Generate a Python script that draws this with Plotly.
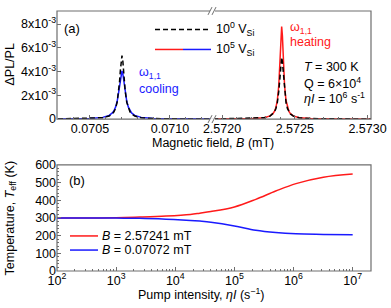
import plotly.graph_objects as go

# ---------------- data ----------------
# Panel (a): left peak (omega_1,1 cooling) around B = 0.0707 mT
b_left = [0.07030, 0.07050, 0.07058, 0.07062, 0.07064, 0.07065, 0.07066, 0.07067, 0.07068,
          0.070685, 0.07069, 0.070695, 0.07070, 0.070705, 0.07071, 0.070715, 0.07072,
          0.07073, 0.07074, 0.07075, 0.07076, 0.07078, 0.07082, 0.07090, 0.07110, 0.07127]
pl_left_low = [1.08e-5, 4.30e-5, 1.18e-4, 2.58e-4, 4.42e-4, 6.14e-4, 9.01e-4, 1.42e-3, 2.39e-3,
               3.16e-3, 4.09e-3, 4.97e-3, 5.35e-3, 4.97e-3, 4.09e-3, 3.16e-3, 2.39e-3,
               1.42e-3, 9.01e-4, 6.14e-4, 4.42e-4, 2.58e-4, 1.18e-4, 4.30e-5, 1.08e-5, 5.3e-6]
pl_left_high = [1.33e-5, 5.29e-5, 1.44e-4, 3.09e-4, 5.19e-4, 7.07e-4, 1.007e-3, 1.50e-3, 2.31e-3,
                2.84e-3, 3.41e-3, 3.87e-3, 4.05e-3, 3.87e-3, 3.41e-3, 2.84e-3, 2.31e-3,
                1.50e-3, 1.007e-3, 7.07e-4, 5.19e-4, 3.09e-4, 1.44e-4, 5.29e-5, 1.33e-5, 6.6e-6]

# Panel (a): right peak (omega_1,1 heating) around B = 2.57241 mT
b_right = [2.57194, 2.57221, 2.57229, 2.57233, 2.57235, 2.57236, 2.57237, 2.57238, 2.57239,
           2.572395, 2.57240, 2.572405, 2.57241, 2.572415, 2.57242, 2.572425, 2.57243,
           2.57244, 2.57245, 2.57246, 2.57247, 2.57249, 2.57253, 2.57261, 2.57281, 2.57303]
pl_right_low = [7.6e-6, 4.18e-5, 1.15e-4, 2.51e-4, 4.30e-4, 5.96e-4, 8.75e-4, 1.38e-3, 2.33e-3,
                3.07e-3, 3.97e-3, 4.83e-3, 5.20e-3, 4.83e-3, 3.97e-3, 3.07e-3, 2.33e-3,
                1.38e-3, 8.75e-4, 5.96e-4, 4.30e-4, 2.51e-4, 1.15e-4, 4.18e-5, 1.05e-5, 4.4e-6]
pl_right_high = [7.9e-6, 4.36e-5, 1.20e-4, 2.65e-4, 4.59e-4, 6.44e-4, 9.62e-4, 1.56e-3, 2.81e-3,
                 3.90e-3, 5.40e-3, 7.02e-3, 7.80e-3, 7.02e-3, 5.40e-3, 3.90e-3, 2.81e-3,
                 1.56e-3, 9.62e-4, 6.44e-4, 4.59e-4, 2.65e-4, 1.20e-4, 4.36e-5, 1.10e-5, 4.6e-6]

# Panel (b): effective temperature vs pump intensity
pump = [1e2, 1e3, 2.5e3, 7e3, 1.8e4, 2.6e4, 4e4, 1e5, 2.3e5, 5e5, 1.1e6, 3.2e6, 1e7]
t_heat = [300, 301, 305, 311, 320, 327, 336, 362, 405, 452, 494, 530, 548]
t_cool = [300, 299, 298, 293, 286, 282, 276, 255, 230, 217, 210, 207, 205]

ya_ticks = [0, 2e-3, 4e-3, 6e-3, 8e-3]
ya_text = ["0", "2x10<sup>-3</sup>", "4x10<sup>-3</sup>", "6x10<sup>-3</sup>", "8x10<sup>-3</sup>"]
xl_ticks = [0.0705, 0.0710]
xl_text = ["0.0705", "0.0710"]
xr_ticks = [2.5720, 2.5725, 2.5730]
xr_text = ["2.5720", "2.5725", "2.5730"]
xb_ticks = [1e2, 1e3, 1e4, 1e5, 1e6, 1e7]
xb_text = ["10<sup>2</sup>", "10<sup>3</sup>", "10<sup>4</sup>", "10<sup>5</sup>",
           "10<sup>6</sup>", "10<sup>7</sup>"]
yb_ticks = [0, 100, 200, 300, 400, 500, 600]

# ---------------- layout geometry (pixels) ----------------
W, H = 391, 308
L, R, T, B = 57, 20, 4, 37
PW, PH = W - L - R, H - T - B
BREAK_X = 213


def px(x):
    return (x - L) / PW


def py(y):
    return (H - B - y) / PH


FONT = "Liberation Sans, Arial, sans-serif"
AX = "#6e6e6e"
RED = "#ff1a1a"
BLUE = "#1a1aff"

fig = go.Figure()

# panel (a) traces
fig.add_trace(go.Scatter(x=b_left, y=pl_left_high, mode="lines", line=dict(color=BLUE, width=1.5),
                         xaxis="x", yaxis="y", showlegend=False))
fig.add_trace(go.Scatter(x=b_left, y=pl_left_low, mode="lines",
                         line=dict(color="black", width=1.5, dash="5px,3px"),
                         xaxis="x", yaxis="y", showlegend=False))
fig.add_trace(go.Scatter(x=b_right, y=pl_right_high, mode="lines", line=dict(color=RED, width=1.5),
                         xaxis="x2", yaxis="y", showlegend=False))
fig.add_trace(go.Scatter(x=b_right, y=pl_right_low, mode="lines",
                         line=dict(color="black", width=1.5, dash="5px,3px"),
                         xaxis="x2", yaxis="y", showlegend=False))

# panel (b) traces
fig.add_trace(go.Scatter(x=pump, y=t_heat, mode="lines", line=dict(color=RED, width=1.5, shape="spline"),
                         xaxis="x3", yaxis="y3", showlegend=False))
fig.add_trace(go.Scatter(x=pump, y=t_cool, mode="lines", line=dict(color=BLUE, width=1.5, shape="spline"),
                         xaxis="x3", yaxis="y3", showlegend=False))

tickfont = dict(family=FONT, size=12.5, color="black")
top_dom = [py(115), 1.0]
bot_dom = [0.0, py(162)]
split = px(BREAK_X)

common_x = dict(showline=False, showgrid=False, zeroline=False, ticks="inside", ticklen=4,
                tickcolor=AX, tickfont=tickfont)

fig.update_layout(
    width=W, height=H,
    margin=dict(l=L, r=R, t=T, b=B),
    paper_bgcolor="white", plot_bgcolor="white",
    font=dict(family=FONT, size=12.5, color="black"),
    xaxis=dict(domain=[0, split], range=[0.070294, 0.071269], anchor="y",
               tickvals=xl_ticks, ticktext=xl_text,
               minor=dict(ticks="inside", ticklen=2, tickcolor=AX, dtick=0.0001, tick0=0.0705),
               **common_x),
    xaxis2=dict(domain=[split, 1], range=[2.571938, 2.573024], anchor="y",
                tickvals=xr_ticks, ticktext=xr_text,
                minor=dict(ticks="inside", ticklen=2, tickcolor=AX, dtick=0.0001, tick0=2.5720),
                **common_x),
    yaxis=dict(domain=top_dom, range=[0, 9.1e-3], anchor="x",
               tickvals=ya_ticks, ticktext=ya_text,
               showline=False, showgrid=False, zeroline=False, ticks="inside", ticklen=4,
               tickcolor=AX, tickfont=tickfont),
    xaxis3=dict(domain=[0, 1], type="log", range=[2, 7.31], anchor="y3",
                tickvals=xb_ticks, ticktext=xb_text,
                minor=dict(ticks="inside", ticklen=2, tickcolor=AX, dtick="D1"),
                **common_x),
    yaxis3=dict(domain=bot_dom, range=[0, 600], anchor="x3",
                tickvals=yb_ticks,
                minor=dict(ticks="inside", ticklen=2, tickcolor=AX, dtick=20),
                showline=False, showgrid=False, zeroline=False, ticks="inside", ticklen=4,
                tickcolor=AX, tickfont=tickfont),
)

shapes = []
# frames
shapes.append(dict(type="rect", xref="paper", yref="paper", x0=0, x1=1, y0=top_dom[0], y1=top_dom[1],
                   line=dict(color=AX, width=1.2), fillcolor="rgba(0,0,0,0)", layer="above"))
shapes.append(dict(type="rect", xref="paper", yref="paper", x0=0, x1=1, y0=bot_dom[0], y1=bot_dom[1],
                   line=dict(color=AX, width=1.2), fillcolor="rgba(0,0,0,0)", layer="above"))
# axis break marks (//) on top panel, top and bottom edges
for yy in (4, 115):
    shapes.append(dict(type="rect", xref="paper", yref="paper", x0=px(BREAK_X - 3), x1=px(BREAK_X + 2),
                       y0=py(yy + 1), y1=py(yy - 1), line=dict(width=0), fillcolor="white", layer="above"))
    for dx in (-3, 1):
        shapes.append(dict(type="line", xref="paper", yref="paper",
                           x0=px(BREAK_X + dx - 2), y0=py(yy + 4), x1=px(BREAK_X + dx + 2), y1=py(yy - 4),
                           line=dict(color=AX, width=1), layer="above"))
# legend samples, panel (a)
shapes.append(dict(type="line", xref="paper", yref="paper", x0=px(155), x1=px(211), y0=py(23), y1=py(23),
                   line=dict(color="black", width=1.5, dash="5px,3px")))
shapes.append(dict(type="line", xref="paper", yref="paper", x0=px(155), x1=px(183), y0=py(43.5), y1=py(43.5),
                   line=dict(color=RED, width=1.5)))
shapes.append(dict(type="line", xref="paper", yref="paper", x0=px(183), x1=px(211), y0=py(43.5), y1=py(43.5),
                   line=dict(color=BLUE, width=1.5)))
# legend samples, panel (b)
shapes.append(dict(type="line", xref="paper", yref="paper", x0=px(70), x1=px(98), y0=py(235), y1=py(235),
                   line=dict(color=RED, width=1.5)))
shapes.append(dict(type="line", xref="paper", yref="paper", x0=px(70), x1=px(98), y0=py(249.5), y1=py(249.5),
                   line=dict(color=BLUE, width=1.5)))
fig.update_layout(shapes=shapes)


def ann(text, x, y, xanchor="left", color="black", size=12.5, angle=0):
    return dict(text=text, x=px(x), y=py(y), xref="paper", yref="paper", xanchor=xanchor, yanchor="middle",
                showarrow=False, textangle=angle, font=dict(family=FONT, size=size, color=color))


anns = [
    ann("(a)", 62, 22, size=13),
    ann("10<sup>0</sup> V<sub>Si</sub>", 214, 22),
    ann("10<sup>5</sup> V<sub>Si</sub>", 214, 43),
    ann("ω<sub>1,1</sub>", 137, 68, color=BLUE),
    ann("cooling", 137, 84, color=BLUE),
    ann("ω<sub>1,1</sub>", 288, 21, color=RED),
    ann("heating", 288, 36, color=RED),
    ann("<i>T</i> = 300 K", 302, 62),
    ann("Q = 6×10<sup>4</sup>", 302, 78),
    ann("<i>ηI</i> = 10<sup>6</sup> s<sup>-1</sup>", 302, 93),
    ann("Magnetic field, <i>B</i> (mT)", 213, 140, xanchor="center"),
    ann("ΔPL/PL", 10, 59, xanchor="center", angle=-90),
    ann("(b)", 67, 178, size=13),
    ann("<i>B</i> = 2.57241 mT", 100, 235),
    ann("<i>B</i> = 0.07072 mT", 100, 249),
    ann("Pump intensity, <i>ηI</i> (s<sup>−1</sup>)", 201, 295, xanchor="center"),
    ann("Temperature, <i>T</i><sub>eff</sub> (K)", 11, 217, xanchor="center", angle=-90),
]
fig.update_layout(annotations=anns)

fig.write_html("out.html",
               config={"displayModeBar": False},
               post_script="document.body.style.margin='0px';document.body.style.padding='0px';"
                           "document.documentElement.style.overflow='hidden';")
